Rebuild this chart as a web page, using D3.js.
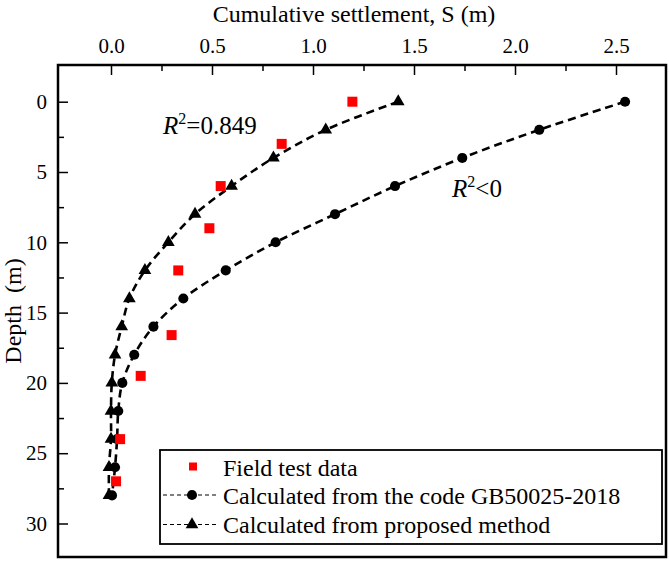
<!DOCTYPE html>
<html>
<head>
<meta charset="utf-8">
<script src="https://cdn.jsdelivr.net/npm/d3@7"></script>
<style>
  html, body { margin: 0; padding: 0; background: #fff; }
  svg { display: block; }
  text { font-family: "Liberation Serif", "Tinos", "Times New Roman", "DejaVu Serif", serif; fill: #000; }
</style>
</head>
<body>
<svg id="chart" width="669" height="561"></svg>
<script>
// ---- data (settlement S in m, depth D in m) ----
const fieldDepth = [0, 3, 6, 9, 12, 16.6, 19.5, 24, 27];
const fieldS     = [1.195, 0.845, 0.543, 0.487, 0.333, 0.30, 0.147, 0.045, 0.025];

const codeDepth = [0, 2, 4, 6, 8, 10, 12, 14, 16, 18, 20, 22, 24, 26, 28];
const codeS     = [2.545, 2.12, 1.739, 1.406, 1.109, 0.815, 0.568, 0.358, 0.21, 0.115, 0.056, 0.036, 0.03, 0.02, 0.005];

const propDepth = [0, 2, 4, 6, 8, 10, 12, 14, 16, 18, 20, 22, 24, 26, 28];
const propS     = [1.422, 1.063, 0.804, 0.597, 0.416, 0.284, 0.168, 0.091, 0.053, 0.02, 0.004, 0.0, 0.0, -0.01, -0.01];

const xMajorTicks = [0, 0.5, 1.0, 1.5, 2.0, 2.5];
const xMinorTicks = [0.25, 0.75, 1.25, 1.75, 2.25];
const yMajorTicks = [0, 5, 10, 15, 20, 25, 30];
const yMinorTicks = [2.5, 7.5, 12.5, 17.5, 22.5, 27.5];

const legendLabels = ["Field test data", "Calculated from the code GB50025-2018", "Calculated from proposed method"];
const xTitle = "Cumulative settlement, S (m)";
const yTitle = "Depth\u00a0\u00a0(m)";

// ---- layout ----
const FONT = "'Liberation Serif', 'Tinos', 'Times New Roman', 'DejaVu Serif', serif";
const frame = { left: 58, top: 65, right: 666, bottom: 557 };
const svg = d3.select("#chart");

const x = d3.scaleLinear().domain([0, 2.5]).range([111, 616]);
const y = d3.scaleLinear().domain([0, 30]).range([101.7, 523.5]);

const field = fieldDepth.map((d, i) => ({ d, s: fieldS[i] }));
const code = codeDepth.map((d, i) => ({ d, s: codeS[i] }));
const prop = propDepth.map((d, i) => ({ d, s: propS[i] }));

// ---- axes ----
const topAxis = d3.axisTop(x).tickValues(xMajorTicks).tickFormat(d3.format(".1f")).tickSize(-10).tickPadding(12);
const topMinor = d3.axisTop(x).tickValues(xMinorTicks).tickFormat("").tickSize(-6);
const leftAxis = d3.axisLeft(y).tickValues(yMajorTicks).tickFormat(d3.format("d")).tickSize(-10).tickPadding(11);
const leftMinor = d3.axisLeft(y).tickValues(yMinorTicks).tickFormat("").tickSize(-6);

function styleAxis(g) {
  g.attr("font-family", null).attr("font-size", null);
  g.select(".domain").remove();
  g.selectAll("line").attr("stroke", "#000").attr("stroke-width", 1.5);
  g.selectAll("text").style("font-family", FONT).style("font-size", "21px").attr("fill", "#000");
}

svg.append("g").attr("transform", `translate(0,${frame.top})`).call(topAxis).call(styleAxis);
svg.append("g").attr("transform", `translate(0,${frame.top})`).call(topMinor).call(styleAxis);
svg.append("g").attr("transform", `translate(${frame.left},0)`).call(leftAxis).call(styleAxis);
svg.append("g").attr("transform", `translate(${frame.left},0)`).call(leftMinor).call(styleAxis);

// ---- titles ----
svg.append("text").attr("x", 354).attr("y", 22).attr("text-anchor", "middle")
  .style("font-family", FONT).style("font-size", "24px").text(xTitle);
svg.append("text").attr("transform", "translate(21,311) rotate(-90)").attr("text-anchor", "middle")
  .style("font-family", FONT).style("font-size", "24px").text(yTitle);

// ---- lines ----
const line = d3.line().x(p => x(p.s)).y(p => y(p.d)).curve(d3.curveCatmullRom.alpha(0.5));
[code, prop].forEach(series => {
  svg.append("path").datum(series).attr("d", line)
    .attr("fill", "none").attr("stroke", "#000").attr("stroke-width", 2.6)
    .attr("stroke-dasharray", "8,5");
});

// ---- markers ----
const circleSym = d3.symbol().type(d3.symbolCircle).size(80);
const triSym = d3.symbol().type(d3.symbolTriangle).size(70);
const sqSym = d3.symbol().type(d3.symbolSquare).size(100);

svg.append("g").selectAll("path").data(code).join("path")
  .attr("transform", p => `translate(${x(p.s)},${y(p.d)})`).attr("d", circleSym).attr("fill", "#000");
svg.append("g").selectAll("path").data(prop).join("path")
  .attr("transform", p => `translate(${x(p.s)},${y(p.d)})`).attr("d", triSym).attr("fill", "#000");
svg.append("g").selectAll("path").data(field).join("path")
  .attr("transform", p => `translate(${x(p.s)},${y(p.d)})`).attr("d", sqSym).attr("fill", "#ff0000");

// ---- annotations ----
const a1 = svg.append("text").attr("x", 163).attr("y", 134).style("font-family", FONT).style("font-size", "25px");
a1.append("tspan").style("font-style", "italic").text("R");
a1.append("tspan").attr("dy", -10).style("font-size", "16px").text("2");
a1.append("tspan").attr("dy", 10).text("=0.849");

const a2 = svg.append("text").attr("x", 452).attr("y", 197).style("font-family", FONT).style("font-size", "25px");
a2.append("tspan").style("font-style", "italic").text("R");
a2.append("tspan").attr("dy", -10).style("font-size", "16px").text("2");
a2.append("tspan").attr("dy", 10).text("<0");

// ---- legend ----
const lg = svg.append("g");
lg.append("rect").attr("x", 160).attr("y", 450).attr("width", 502).attr("height", 94)
  .attr("fill", "#fff").attr("stroke", "#000").attr("stroke-width", 1.8);
const rows = [466.5, 495, 524.5];
const baselines = [476, 504, 533];
lg.append("path").attr("transform", `translate(193,${rows[0]})`).attr("d", d3.symbol().type(d3.symbolSquare).size(64)).attr("fill", "#ff0000");
[1, 2].forEach(i => {
  lg.append("line").attr("x1", 163).attr("x2", 219).attr("y1", rows[i]).attr("y2", rows[i])
    .attr("stroke", "#000").attr("stroke-width", 1.2).attr("stroke-dasharray", "4,3");
});
lg.append("path").attr("transform", `translate(192,${rows[1]})`).attr("d", circleSym).attr("fill", "#000");
lg.append("path").attr("transform", `translate(192,${rows[2]})`).attr("d", triSym).attr("fill", "#000");
legendLabels.forEach((t, i) => {
  lg.append("text").attr("x", 223).attr("y", baselines[i])
    .style("font-family", FONT).style("font-size", "24px").text(t);
});

// ---- frame ----
svg.append("rect").attr("x", frame.left).attr("y", frame.top)
  .attr("width", frame.right - frame.left).attr("height", frame.bottom - frame.top)
  .attr("fill", "none").attr("stroke", "#000").attr("stroke-width", 2.5);
</script>
</body>
</html>
